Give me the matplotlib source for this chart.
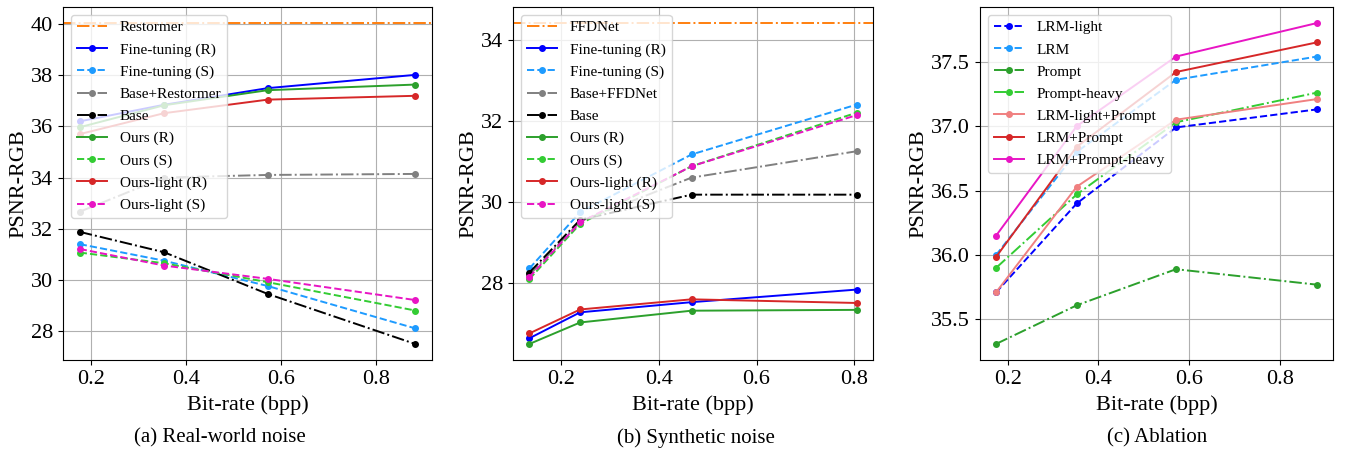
import matplotlib
matplotlib.use("Agg")
import matplotlib.pyplot as plt
from matplotlib.ticker import MultipleLocator

plt.rcParams['font.family'] = ['Liberation Serif', 'DejaVu Serif']
plt.rcParams['mathtext.fontset'] = 'stix'

# ---------------- data ----------------
# (a) Real-world noise
bpp_a = [0.176, 0.354, 0.572, 0.883]
restormer = 40.05
ft_r_a = [36.20, 36.85, 37.50, 38.02]
ft_s_a = [31.39, 30.74, 29.75, 28.09]
base_rest = [32.66, 34.00, 34.10, 34.14]
base_a = [31.87, 31.07, 29.44, 27.48]
ours_r_a = [35.97, 36.83, 37.42, 37.64]
ours_s_a = [31.06, 30.64, 29.90, 28.79]
light_r_a = [35.70, 36.52, 37.05, 37.20]
light_s_a = [31.20, 30.55, 30.03, 29.20]

# (b) Synthetic noise
bpp_b = [0.135, 0.239, 0.467, 0.805]
ffdnet = 34.41
ft_r_b = [26.64, 27.28, 27.53, 27.84]
ft_s_b = [28.36, 29.75, 31.17, 32.40]
base_ffd = [28.20, 29.52, 30.60, 31.25]
base_b = [28.26, 29.56, 30.18, 30.18]
ours_r_b = [26.50, 27.03, 27.32, 27.34]
ours_s_b = [28.10, 29.46, 30.88, 32.20]
light_r_b = [26.76, 27.35, 27.60, 27.51]
light_s_b = [28.15, 29.50, 30.88, 32.14]

# (c) Ablation
bpp_c = [0.174, 0.352, 0.571, 0.882]
lrm_light = [35.71, 36.40, 36.99, 37.13]
lrm = [36.00, 36.80, 37.36, 37.54]
prompt = [35.31, 35.61, 35.89, 35.77]
prompt_heavy = [35.90, 36.47, 37.03, 37.26]
lrm_light_prompt = [35.71, 36.53, 37.05, 37.21]
lrm_prompt = [35.985, 36.84, 37.42, 37.65]
lrm_prompt_heavy = [36.15, 37.00, 37.54, 37.80]

captions = ["(a) Real-world noise", "(b) Synthetic noise", "(c) Ablation"]

# ---------------- styles ----------------
C_ORANGE = '#ff7f0e'
C_BLUE = '#0000ff'
C_LBLUE = '#1e9bff'
C_GRAY = '#808080'
C_BLACK = '#000000'
C_GREEN = '#2ca02c'
C_LIME = '#33cc33'
C_RED = '#d62728'
C_MAG = '#e815c4'
C_PINK = '#f08080'

W, H = 1348, 462
fig = plt.figure(figsize=(W / 100, H / 100), dpi=100)

def ax_at(l, r, t, b):
    return fig.add_axes([l / W, 1 - b / H, (r - l) / W, (b - t) / H])

axa = ax_at(63, 432, 7, 360)
axb = ax_at(513, 873, 7, 360)
axc = ax_at(980, 1333, 7, 360)

lw = 1.4
ms = 4

def plot(ax, x, y, color, ls, label):
    ax.plot(x, y, color=color, linestyle=ls, marker='o', markersize=ms,
            linewidth=lw, label=label)

# (a)
axa.axhline(restormer, color=C_ORANGE, linestyle='-.', linewidth=lw, label='Restormer')
plot(axa, bpp_a, ft_r_a, C_BLUE, '-', 'Fine-tuning (R)')
plot(axa, bpp_a, ft_s_a, C_LBLUE, '--', 'Fine-tuning (S)')
plot(axa, bpp_a, base_rest, C_GRAY, '-.', 'Base+Restormer')
plot(axa, bpp_a, base_a, C_BLACK, '-.', 'Base')
plot(axa, bpp_a, ours_r_a, C_GREEN, '-', 'Ours (R)')
plot(axa, bpp_a, ours_s_a, C_LIME, '--', 'Ours (S)')
plot(axa, bpp_a, light_r_a, C_RED, '-', 'Ours-light (R)')
plot(axa, bpp_a, light_s_a, C_MAG, '--', 'Ours-light (S)')

# (b)
axb.axhline(ffdnet, color=C_ORANGE, linestyle='-.', linewidth=lw, label='FFDNet')
plot(axb, bpp_b, ft_r_b, C_BLUE, '-', 'Fine-tuning (R)')
plot(axb, bpp_b, ft_s_b, C_LBLUE, '--', 'Fine-tuning (S)')
plot(axb, bpp_b, base_ffd, C_GRAY, '-.', 'Base+FFDNet')
plot(axb, bpp_b, base_b, C_BLACK, '-.', 'Base')
plot(axb, bpp_b, ours_r_b, C_GREEN, '-', 'Ours (R)')
plot(axb, bpp_b, ours_s_b, C_LIME, '--', 'Ours (S)')
plot(axb, bpp_b, light_r_b, C_RED, '-', 'Ours-light (R)')
plot(axb, bpp_b, light_s_b, C_MAG, '--', 'Ours-light (S)')

# (c)
plot(axc, bpp_c, lrm_light, C_BLUE, '--', 'LRM-light')
plot(axc, bpp_c, lrm, C_LBLUE, '--', 'LRM')
plot(axc, bpp_c, prompt, C_GREEN, '-.', 'Prompt')
plot(axc, bpp_c, prompt_heavy, C_LIME, '-.', 'Prompt-heavy')
plot(axc, bpp_c, lrm_light_prompt, C_PINK, '-', 'LRM-light+Prompt')
plot(axc, bpp_c, lrm_prompt, C_RED, '-', 'LRM+Prompt')
plot(axc, bpp_c, lrm_prompt_heavy, C_MAG, '-', 'LRM+Prompt-heavy')

for ax, ystep in ((axa, 2), (axb, 2), (axc, 0.5)):
    ax.grid(True, color='#b0b0b0', linewidth=0.8)
    ax.set_axisbelow(True)
    ax.xaxis.set_major_locator(MultipleLocator(0.2))
    ax.yaxis.set_major_locator(MultipleLocator(ystep))
    ax.tick_params(labelsize=16)
    ax.set_xlabel('Bit-rate (bpp)', fontsize=16, labelpad=5)
    ax.set_ylabel('PSNR-RGB', fontsize=16, labelpad=2)
    ax.legend(loc='upper left', fontsize=11, labelspacing=0.55, framealpha=0.8)

fig.text(220 / W, 1 - 438 / H, captions[0], ha='center', va='center', fontsize=15)
fig.text(696 / W, 1 - 438 / H, captions[1], ha='center', va='center', fontsize=15)
fig.text(1157 / W, 1 - 438 / H, captions[2], ha='center', va='center', fontsize=15)

fig.savefig('out.png', dpi=100)
